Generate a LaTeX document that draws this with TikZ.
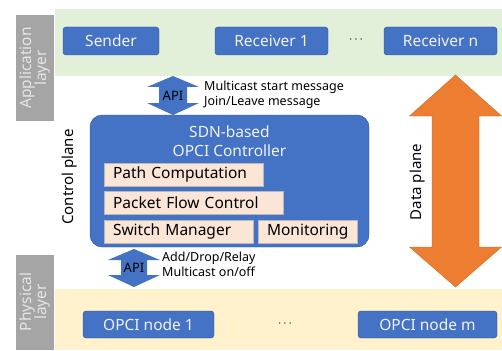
\documentclass[tikz,border=0pt]{standalone}
\usepackage{fontspec}
\usepackage{xcolor}
\setmainfont{Noto Sans}
\definecolor{boxblue}{HTML}{4472C4}
\definecolor{edgeblue}{HTML}{2F528F}
\definecolor{appgreen}{HTML}{E2F0D9}
\definecolor{physyellow}{HTML}{FFF2CC}
\definecolor{layergray}{HTML}{A5A5A5}
\definecolor{modpeach}{HTML}{FBE5D6}
\definecolor{dataorange}{HTML}{ED7D31}

\begin{document}
\begin{tikzpicture}[x=1pt, y=-1pt,
  bluebox/.style={draw=edgeblue, fill=boxblue, rounded corners=3pt, text=white!95!black,
    font=\fontsize{15.5}{18}\selectfont, minimum height=28pt, inner sep=0pt},
  modbox/.style={draw=gray!55, fill=modpeach, font=\fontsize{15.5}{18}\selectfont,
    minimum height=23pt, inner ysep=0pt, inner xsep=9pt, align=left},
  layerlabel/.style={rotate=90, align=center, text=gray!20, font=\fontsize{15.5}{17}\selectfont},
  planelabel/.style={rotate=90, font=\fontsize{15}{18}\selectfont},
  apinote/.style={anchor=west, align=left, font=\fontsize{12.5}{15}\selectfont, inner sep=0pt},
  dots/.style={font=\fontsize{12}{14}\selectfont}]
  \useasboundingbox (0,0) rectangle (502,350);

  \fill[appgreen] (55,9) rectangle (502,76);
  \fill[physyellow] (55,289) rectangle (502,350);
  \fill[layergray] (16,15) rectangle (54,121);
  \fill[layergray] (16,255) rectangle (54,350);
  \node[layerlabel] (applabel) at (35,68) {Application\\[-2pt]layer};
  \node[layerlabel] (physlabel) at (35,302) {Physical\\[-2pt]layer};

  \node[bluebox, minimum width=96pt] (sender) at (111,41) {Sender};
  \node[bluebox, minimum width=113pt] (recv1) at (271.5,41) {Receiver 1};
  \node[dots] (recvdots) at (356,40) {$\cdots$};
  \node[bluebox, minimum width=113pt] (recvn) at (440.5,41) {Receiver n};

  \fill[boxblue] (173,76) -- (199,87) -- (187,87) -- (187,103) -- (199,103) -- (173,115)
    -- (147,103) -- (159,103) -- (159,87) -- (147,87) -- cycle;
  \node[font=\fontsize{13}{15}\selectfont] (apitop) at (173,95.5) {API};
  \node[apinote] (topnote) at (204,95) {Multicast start message\\Join/Leave message};

  \draw[edgeblue, fill=boxblue, rounded corners=12pt] (90,115) rectangle (369,247);
  \node[align=center, text=white!95!black, font=\fontsize{15.5}{19}\selectfont] (ctrl) at (229.5,141)
    {SDN-based\\OPCI Controller};
  \node[modbox, text width=141pt] (pathcomp) at (183.5,174.5) {Path Computation};
  \node[modbox, text width=161pt] (flowctrl) at (193.5,202.5) {Packet Flow Control};
  \node[modbox, text width=131pt] (switchmgr) at (178.5,231.5) {Switch Manager};
  \node[modbox, text width=81pt] (monitor) at (307.5,231.5) {Monitoring};
  \node[planelabel] (ctrlplane) at (70,177) {Control plane};

  \fill[boxblue] (134,249) -- (160,260) -- (147,260) -- (147,275) -- (160,275) -- (134,287)
    -- (108,275) -- (121,275) -- (121,260) -- (108,260) -- cycle;
  \node[font=\fontsize{13}{15}\selectfont] (apibot) at (134,268) {API};
  \node[apinote] (botnote) at (162,264) {Add/Drop/Relay\\Multicast on/off};

  \draw[dataorange!85!black, fill=dataorange, line width=0.4pt] (455.5,75) -- (501.5,116) -- (479,116)
    -- (479,247) -- (501.5,247) -- (455.5,287) -- (409.5,247) -- (432,247) -- (432,116)
    -- (409.5,116) -- cycle;
  \node[planelabel] (dataplane) at (418,182) {Data plane};

  \node[bluebox, minimum width=131pt, minimum height=27pt] (opci1) at (148.5,324.5) {OPCI node 1};
  \node[dots] (opcidots) at (285,324) {$\cdots$};
  \node[bluebox, minimum width=139pt, minimum height=27pt] (opcim) at (427.5,324.5) {OPCI node m};
\end{tikzpicture}
\end{document}
